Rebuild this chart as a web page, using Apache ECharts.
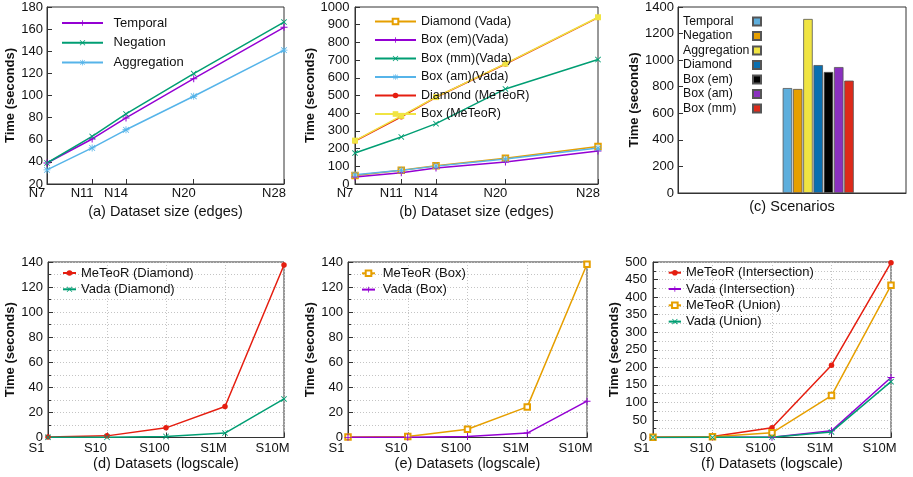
<!DOCTYPE html>
<html>
<head>
<meta charset="utf-8">
<title>Reasoning time benchmarks</title>
<script src="https://cdn.jsdelivr.net/npm/echarts@6/dist/echarts.min.js"></script>
<style>
  html, body { margin: 0; padding: 0; background: #fff; }
  #chart { width: 913px; height: 477px; }
</style>
</head>
<body>
<div id="chart"></div>
<script>
// ---- (a) / (b): dataset size in edges ----
const sizeTicks = [7, 11, 14, 20, 28];

const temporalTime    = [39, 60.7, 79.7, 115.2, 161.6];
const negationTime    = [39, 63, 83.3, 119.8, 166.4];
const aggregationTime = [32.7, 52.6, 69, 99.3, 141];

const diamondVada   = [48, 78, 103, 145, 212];
const boxEmVada     = [40, 64, 90, 124, 186];
const boxMmVada     = [175, 266, 341, 537, 703];
const boxAmVada     = [52, 77, 101, 141, 203];
const diamondMeteor = [243, 380, 490, 678, 940];
const boxMeteor     = [245, 385, 491, 680, 942];

// ---- (c): scenarios ----
const scenarios     = ['Temporal', 'Negation', 'Aggregation', 'Diamond', 'Box (em)', 'Box (am)', 'Box (mm)'];
const scenarioTimes = [790, 783, 1310, 963, 911, 948, 846];

// ---- (d) / (e) / (f): dataset scale ----
const scaleLabels = ['S1', 'S10', 'S100', 'S1M', 'S10M'];

const meteorDiamond = [0.3, 1.3, 7.7, 24.7, 137.6];
const vadaDiamond   = [0.1, 0.2, 0.8, 3.5, 30.8];

const meteorBox = [0.3, 0.8, 6.6, 24.4, 138.2];
const vadaBox   = [0.1, 0.2, 0.8, 3.5, 29];

const meteorIntersection = [1, 3, 27.5, 206, 498];
const vadaIntersection   = [0.2, 0.5, 1, 19, 171];
const meteorUnion        = [0.5, 2, 13.3, 119.6, 433.6];
const vadaUnion          = [0.2, 0.5, 1, 16, 159];

// ---- styling ----
const FONT = '"Liberation Sans", Arial, Helvetica, sans-serif';
const INK = '#111';
const FRAME = '#333';
const DOTS = '#c4c4c4';
const COL = {
  purple: '#9400D3', green: '#009E73', sky: '#56B4E9', orange: '#E69F00',
  yellow: '#F0E442', blue: '#0072B2', red: '#E51E10', black: '#000000'
};
const BAR_COL = ['#5eaedc', '#E69F00', '#F0E442', '#0a6fb0', '#000000', '#8a30bf', '#dd2a1a'];
const SCEN_PREFIX = 'Scenario: ';

// gnuplot-like point shapes
const SYM = {
  plus:  'path://M4.3,0H5.7V4.3H10V5.7H5.7V10H4.3V5.7H0V4.3H4.3Z',
  cross: 'path://M1,0L5,4L9,0L10,1L6,5L10,9L9,10L5,6L1,10L0,9L4,5L0,1Z',
  star:  'path://M4.4,0H5.6V4.4H10V5.6H5.6V10H4.4V5.6H0V4.4H4.4Z M1.3,0.5L5,4.2L8.7,0.5L9.5,1.3L5.8,5L9.5,8.7L8.7,9.5L5,5.8L1.3,9.5L0.5,8.7L4.2,5L0.5,1.3Z'
};

const grids = [
  { left: 47,  top: 7,   width: 237, height: 177 },
  { left: 355, top: 7,   width: 243, height: 177 },
  { left: 678, top: 7,   width: 228, height: 186 },
  { left: 48,  top: 262, width: 236, height: 175.5 },
  { left: 348, top: 262, width: 239, height: 175.5 },
  { left: 653, top: 262, width: 238, height: 175.5 }
].map(g => Object.assign({ show: true, borderColor: FRAME, borderWidth: 1, backgroundColor: 'transparent' }, g));

const axisLineStyle = { show: true, lineStyle: { color: FRAME, width: 1 } };
const labelBase = { color: INK, fontSize: 13, fontFamily: FONT };
const xNameStyle = { color: INK, fontSize: 14.5, fontFamily: FONT };
const yNameStyle = { color: INK, fontSize: 13, fontWeight: 'bold', fontFamily: FONT };
const dotted = { show: true, lineStyle: { color: DOTS, type: [1, 2], width: 1 } };

function yAxis(gi, min, max, interval, nameGap, margin, minor) {
  const ax = {
    gridIndex: gi, type: 'value', min: min, max: max, interval: interval,
    name: 'Time (seconds)', nameLocation: 'middle', nameGap: nameGap, nameTextStyle: yNameStyle,
    axisLine: axisLineStyle,
    axisTick: { show: true, inside: true, length: 5, lineStyle: { color: FRAME } },
    axisLabel: Object.assign({ margin: margin, formatter: v => String(v) }, labelBase),
    splitLine: { show: false }
  };
  if (minor) {
    ax.splitLine = dotted;
    ax.minorTick = { show: true, splitNumber: 2, length: 3, lineStyle: { color: FRAME } };
    ax.minorSplitLine = dotted;
  }
  return ax;
}

function sizeAxis(gi, name) {
  return {
    gridIndex: gi, type: 'value', min: 7, max: 28,
    name: name, nameLocation: 'middle', nameGap: 20.75, nameTextStyle: xNameStyle,
    axisLine: axisLineStyle,
    axisTick: { show: true, inside: true, length: 5, customValues: sizeTicks, lineStyle: { color: FRAME } },
    axisLabel: Object.assign({ customValues: sizeTicks, formatter: v => 'N' + v, margin: 3, padding: [0, 20, 0, 0] }, labelBase),
    splitLine: { show: false }
  };
}

function scaleAxis(gi, name) {
  return {
    gridIndex: gi, type: 'category', data: scaleLabels, boundaryGap: false,
    name: name, nameLocation: 'middle', nameGap: 19.25, nameTextStyle: xNameStyle,
    axisLine: axisLineStyle,
    axisTick: { show: true, inside: true, length: 5, lineStyle: { color: FRAME } },
    axisLabel: Object.assign({ interval: 0, margin: 4, padding: [0, 23, 0, 0] }, labelBase),
    splitLine: dotted
  };
}

function line(gi, name, values, color, symbol, size, xs, extra) {
  const s = {
    type: 'line', name: name, xAxisIndex: gi, yAxisIndex: gi,
    data: xs ? xs.map((x, i) => [x, values[i]]) : values,
    symbol: symbol, symbolSize: size, showSymbol: true, showAllSymbol: true,
    lineStyle: { color: color, width: 1.5 },
    itemStyle: { color: color },
    emphasis: { disabled: true },
    animation: false
  };
  if (symbol === 'emptyRect') s.itemStyle = { color: color, borderColor: color, borderWidth: 1.1 };
  return Object.assign(s, extra || {});
}

function lineLegend(names, left, top, itemWidth, itemGap, fontSize, textPad) {
  return {
    data: names, orient: 'vertical', left: left, top: top, padding: 0,
    itemWidth: itemWidth, itemHeight: 7, itemGap: itemGap, selectedMode: false,
    textStyle: { color: INK, fontSize: fontSize, fontFamily: FONT, lineHeight: 16, padding: [0, 0, 0, textPad] }
  };
}

// group position of the scenario bars along the (unlabelled) x axis
const SCEN_X = 0.615;

const series = [
  // (a)
  line(0, 'Temporal', temporalTime, COL.purple, SYM.plus, 7, sizeTicks),
  line(0, 'Negation', negationTime, COL.green, SYM.cross, 6, sizeTicks),
  line(0, 'Aggregation', aggregationTime, COL.sky, SYM.star, 7, sizeTicks),
  // (b)
  line(1, 'Diamond (Vada)', diamondVada, COL.orange, 'emptyRect', 5.5, sizeTicks),
  line(1, 'Box (em)(Vada)', boxEmVada, COL.purple, SYM.plus, 7, sizeTicks),
  line(1, 'Box (mm)(Vada)', boxMmVada, COL.green, SYM.cross, 6, sizeTicks),
  line(1, 'Box (am)(Vada)', boxAmVada, COL.sky, SYM.star, 7, sizeTicks),
  line(1, 'Diamond (MeTeoR)', diamondMeteor, COL.red, 'circle', 5.5, sizeTicks),
  line(1, 'Box (MeTeoR)', boxMeteor, COL.yellow, 'rect', 6, sizeTicks),
  // (d)
  line(3, 'MeTeoR (Diamond)', meteorDiamond, COL.red, 'circle', 5.5),
  line(3, 'Vada (Diamond)', vadaDiamond, COL.green, SYM.cross, 6),
  // (e)
  line(4, 'MeTeoR (Box)', meteorBox, COL.orange, 'emptyRect', 5.5),
  line(4, 'Vada (Box)', vadaBox, COL.purple, SYM.plus, 7),
  // (f)
  line(5, 'MeTeoR (Intersection)', meteorIntersection, COL.red, 'circle', 5.5),
  line(5, 'Vada (Intersection)', vadaIntersection, COL.purple, SYM.plus, 7),
  line(5, 'MeTeoR (Union)', meteorUnion, COL.orange, 'emptyRect', 5.5),
  line(5, 'Vada (Union)', vadaUnion, COL.green, SYM.cross, 6)
];

// (c) one bar per scenario, side by side
scenarios.forEach((s, i) => {
  series.push({
    type: 'bar', name: SCEN_PREFIX + s, xAxisIndex: 2, yAxisIndex: 2,
    data: [[SCEN_X, scenarioTimes[i]]],
    barWidth: 9.5, barGap: '8%',
    itemStyle: { color: BAR_COL[i], borderColor: '#555', borderWidth: 0.8 },
    emphasis: { disabled: true },
    animation: false
  });
});

const option = {
  backgroundColor: '#fff',
  animation: false,
  textStyle: { fontFamily: FONT },
  grid: grids,
  xAxis: [
    sizeAxis(0, '(a) Dataset size (edges)'),
    sizeAxis(1, '(b) Dataset size (edges)'),
    {
      gridIndex: 2, type: 'value', min: 0, max: 1,
      name: '(c) Scenarios', nameLocation: 'middle', nameGap: 6.75, nameTextStyle: xNameStyle,
      axisLine: axisLineStyle, axisTick: { show: false }, axisLabel: { show: false }, splitLine: { show: false }
    },
    scaleAxis(3, '(d) Datasets (logscale)'),
    scaleAxis(4, '(e) Datasets (logscale)'),
    scaleAxis(5, '(f) Datasets (logscale)')
  ],
  yAxis: [
    yAxis(0, 20, 180, 20, 29.7, 4, false),
    yAxis(1, 0, 1000, 100, 27.8, 5.5, false),
    yAxis(2, 0, 1400, 200, 33.8, 4, false),
    yAxis(3, 0, 140, 20, 29.8, 5, true),
    yAxis(4, 0, 140, 20, 27.5, 5, true),
    yAxis(5, 0, 500, 50, 28.5, 6, true)
  ],
  legend: [
    lineLegend(['Temporal', 'Negation', 'Aggregation'], 61, 15, 41, 3.8, 13, 5.6),
    lineLegend(['Diamond (Vada)', 'Box (em)(Vada)', 'Box (mm)(Vada)', 'Box (am)(Vada)', 'Diamond (MeTeoR)', 'Box (MeTeoR)'], 374, 13.5, 41, 2.5, 12.5, 0),
    {
      data: scenarios.map(s => SCEN_PREFIX + s), orient: 'vertical', left: 683, top: 15.4, padding: 0,
      align: 'right', icon: 'rect', itemWidth: 8, itemHeight: 8, itemGap: 2.5, selectedMode: false,
      formatter: n => '{t|' + n.replace(SCEN_PREFIX, '') + '}',
      textStyle: { color: INK, fontFamily: FONT, fontSize: 12.3,
        rich: { t: { width: 65, align: 'left', fontSize: 12.3, lineHeight: 14.7, fontFamily: FONT, color: INK } } }
    },
    lineLegend(['MeTeoR (Diamond)', 'Vada (Diamond)'], 62, 265, 13, 0.3, 13, 0),
    lineLegend(['MeTeoR (Box)', 'Vada (Box)'], 361, 265.3, 13, 0.3, 13, 2.7),
    lineLegend(['MeTeoR (Intersection)', 'Vada (Intersection)', 'MeTeoR (Union)', 'Vada (Union)'], 667.7, 264.7, 12.3, 0.3, 13, 0)
  ],
  series: series
};

const chart = echarts.init(document.getElementById('chart'), null, { renderer: 'canvas' });
chart.setOption(option);
</script>
</body>
</html>
